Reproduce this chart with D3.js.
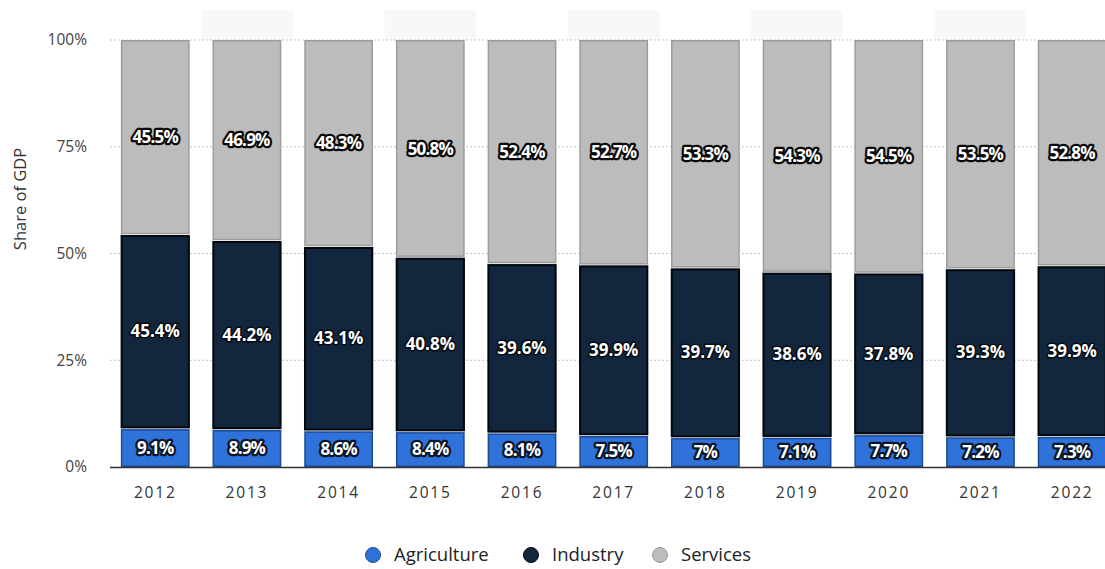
<!DOCTYPE html>
<html><head><meta charset="utf-8">
<script src="https://cdn.jsdelivr.net/npm/d3@7"></script>
<style>
html,body{margin:0;padding:0;background:#fff;}
svg{display:block;}
</style></head>
<body>
<svg id="chart" width="1105" height="569"></svg>
<script>
const years = ["2012","2013","2014","2015","2016","2017","2018","2019","2020","2021","2022"];
const agriculture = [9.1, 8.9, 8.6, 8.4, 8.1, 7.5, 7, 7.1, 7.7, 7.2, 7.3];
const industry = [45.4, 44.2, 43.1, 40.8, 39.6, 39.9, 39.7, 38.6, 37.8, 39.3, 39.9];
const services = [45.5, 46.9, 48.3, 50.8, 52.4, 52.7, 53.3, 54.3, 54.5, 53.5, 52.8];
const yTicks = [0, 25, 50, 75, 100];
const seriesNames = ["Agriculture", "Industry", "Services"];

const colors = {Agriculture:"#2f72d9", Industry:"#12263d", Services:"#bcbcbc"};
const strokes = {Agriculture:"#1b4a96", Industry:"#03070c", Services:"#9c9c9c"};
const haloColor = {Agriculture:"#081528", Industry:"#050b12", Services:"#0a0a0a"};

const rows = years.map((y,i)=>({year:y, Agriculture:agriculture[i], Industry:industry[i], Services:services[i]}));
const stacked = d3.stack().keys(seriesNames)(rows);

const svg = d3.select("#chart");
const font = "'Open Sans', 'DejaVu Sans', sans-serif";

const x = d3.scaleBand().domain(years).range([109.4, 1118]).paddingInner(0.25).paddingOuter(0.125);
const y = d3.scaleLinear().domain([0,100]).range([467, 40]).clamp(true);

// light top bands on alternating columns
svg.append("g").selectAll("rect").data(years.filter((d,i)=>i%2===1)).join("rect")
  .attr("x", d=>x(d) - x.step()*x.paddingInner()/2)
  .attr("width", x.step())
  .attr("y", 10).attr("height", 30)
  .attr("fill", "#f8f8f8");

// gridlines
svg.append("g").selectAll("line").data(yTicks.filter(t=>t>0)).join("line")
  .attr("x1", 110).attr("x2", 1105)
  .attr("y1", d=>y(d)).attr("y2", d=>y(d))
  .attr("stroke", "#c4c4c4").attr("stroke-width", 1).attr("stroke-dasharray", "2,2");

// y tick labels
svg.append("g").selectAll("text").data(yTicks).join("text")
  .attr("x", 87).attr("y", d=>y(d)).attr("dy", "0.35em")
  .attr("text-anchor", "end")
  .attr("font-family", font).attr("font-size", 15.5).attr("fill", "#444")
  .text(d=>d+"%");

// y title
svg.append("text")
  .attr("transform", "translate(26,199) rotate(-90)")
  .attr("text-anchor", "middle")
  .attr("font-family", font).attr("font-size", 16.5).attr("fill", "#333")
  .text("Share of GDP");

// bars
const layers = svg.append("g").selectAll("g").data(stacked).join("g");
layers.selectAll("rect").data(s=>s.map(d=>({key:s.key, d}))).join("rect")
  .attr("x", e=>x(e.d.data.year)+0.75)
  .attr("width", x.bandwidth()-1.5)
  .attr("y", e=>y(e.d[1])+ (e.key==="Services"?0.75:1.75))
  .attr("height", e=>Math.max(0, y(e.d[0]) - y(e.d[1]) - (e.key==="Services"?1.5:2.5)))
  .attr("fill", e=>colors[e.key])
  .attr("stroke", e=>strokes[e.key])
  .attr("stroke-width", e=>e.key==="Industry"?2:1.5);

// baseline
svg.append("line").attr("x1", 110).attr("x2", 1105).attr("y1", y(0)+0.5).attr("y2", y(0)+0.5)
  .attr("stroke", "#333").attr("stroke-width", 1.6);

// value labels
const lbl = svg.append("g");
stacked.forEach(s=>{
  lbl.selectAll(null).data(s).join("text")
    .attr("x", d=>x(d.data.year)+x.bandwidth()/2)
    .attr("y", d=>(y(d[0])+y(d[1]))/2)
    .attr("dy", "0.36em")
    .attr("text-anchor", "middle")
    .attr("font-family", font).attr("font-weight", "bold").attr("font-size", 17)
    .attr("fill", "#fff")
    .attr("stroke", haloColor[s.key]).attr("stroke-width", s.key==="Industry" ? 3 : 4.5)
    .attr("stroke-linejoin", "round")
    .attr("paint-order", "stroke")
    .attr("letter-spacing", s.key==="Industry" ? 0 : -0.8)
    .text(d=>d.data[s.key]+"%");
});

// x labels
svg.append("g").selectAll("text").data(years).join("text")
  .attr("x", d=>x(d)+x.bandwidth()/2)
  .attr("y", 493).attr("dy", "0.35em")
  .attr("text-anchor", "middle")
  .attr("font-family", font).attr("font-size", 15.5).attr("letter-spacing", 1.8)
  .attr("fill", "#333")
  .text(d=>d);

// legend
const legendX = {Agriculture:373, Industry:531, Services:660};
const lg = svg.append("g").selectAll("g").data(seriesNames).join("g")
  .attr("transform", d=>`translate(${legendX[d]},555)`);
lg.append("circle").attr("r", 7.5)
  .attr("fill", d=>colors[d]).attr("stroke", d=>strokes[d]).attr("stroke-width", 1);
lg.append("text").attr("x", 21).attr("dy", "0.35em")
  .attr("font-family", font).attr("font-size", 18.5).attr("fill", "#222")
  .text(d=>d);
</script>
</body></html>
